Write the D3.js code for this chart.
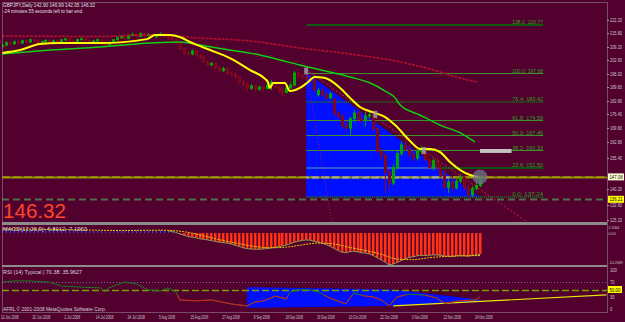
<!DOCTYPE html>
<html>
<head>
<meta charset="utf-8">
<script src="https://cdn.jsdelivr.net/npm/d3@7"></script>
<style>
html, body { margin: 0; padding: 0; background: #52002e; }
svg { display: block; font-family: "Liberation Sans", Arial, sans-serif; }
</style>
</head>
<body>
<svg id="chart" width="625" height="322"></svg>
<script>
// ---- daily GBPJPY bars, 10 Jun 2008 .. 25 Nov 2008 (index = bar number)
const opens = [210.4,211.0,212.2,211.6,212.6,212.0,213.1,212.5,213.6,213.0,212.1,212.6,213.2,212.5,213.1,212.4,213.5,214.0,213.0,212.6,
  213.6,214.1,213.2,212.2,213.0,213.6,212.6,211.2,212.3,213.6,214.6,215.1,214.2,215.6,216.2,215.2,216.6,215.6,216.1,215.0,
  215.6,216.4,215.1,214.5,213.8,211.8,209.2,207.1,206.6,208.2,206.0,205.1,203.0,201.4,202.1,200.0,198.6,199.6,197.1,196.6,
  195.4,193.1,192.0,190.1,191.2,189.6,190.6,190.0,191.4,193.0,190.4,189.0,188.1,190.2,191.6,197.4,196.1,195.5,194.6,194.0,
  187.0,189.0,186.8,185.4,184.6,178.0,176.4,172.0,170.8,175.4,178.0,175.0,174.4,176.6,177.2,170.5,159.5,157.4,149.5,144.2,
  151.6,158.4,162.6,160.4,158.0,156.2,159.6,160.8,155.3,151.6,155.0,151.4,148.4,142.0,144.6,141.7,145.0,146.8,141.7,138.3,
  141.5,142.90];
const highs = [211.6,212.8,212.6,213.2,213.0,213.6,213.6,214.2,214.0,213.4,213.2,213.8,213.6,213.6,213.4,214.0,214.6,214.4,213.6,214.2,
  214.8,214.4,213.6,213.6,214.2,214.0,213.0,212.8,214.0,215.2,215.8,215.6,216.2,217.0,216.6,217.2,217.0,216.8,216.4,216.2,
  217.2,216.8,215.6,215.0,214.2,212.2,209.6,208.0,208.8,208.6,206.6,205.6,203.6,202.8,202.4,200.6,200.4,200.0,198.0,198.0,
  196.2,194.2,192.8,192.0,191.8,191.4,191.2,192.4,194.2,193.6,191.0,190.8,191.4,193.0,198.4,197.8,197.2,197.68,196.2,195.6,
  190.2,190.4,188.2,188.2,185.6,179.4,178.0,174.4,176.2,179.6,179.2,178.4,178.6,179.0,178.0,171.2,161.2,158.4,150.6,153.2,
  160.0,164.2,166.0,162.4,160.0,161.0,162.2,161.4,156.4,156.2,156.0,153.0,150.4,146.0,147.0,147.0,148.5,147.4,143.2,142.6,
  147.5,146.99];
const lows = [209.8,210.6,211.0,211.2,211.4,211.6,212.0,212.2,212.4,211.6,211.6,212.2,212.0,212.0,211.8,212.0,213.0,212.6,212.0,212.2,
  213.2,212.8,211.6,211.8,212.6,212.0,210.2,210.8,212.0,213.2,214.2,213.8,213.8,215.2,214.6,214.8,215.0,215.0,214.4,214.4,
  215.2,214.6,213.8,213.0,211.0,208.6,206.4,205.8,206.0,205.4,204.2,202.4,200.6,200.8,199.2,197.8,198.0,196.4,195.8,194.6,
  192.4,190.8,188.6,189.2,188.4,188.8,189.0,189.4,189.2,189.6,187.4,186.2,187.6,189.8,191.0,195.0,194.4,193.4,192.6,188.4,
  186.0,186.0,184.4,184.8,176.4,175.4,170.8,169.6,167.6,173.6,174.0,173.0,171.6,175.4,169.4,158.4,155.0,139.3,141.2,143.0,
  150.6,157.4,159.4,156.4,154.2,155.0,158.2,154.4,150.4,150.2,150.6,147.0,141.0,139.3,140.5,141.0,144.0,140.5,137.24,137.6,
  140.6,142.05];
const closes = [211.0,212.2,211.6,212.6,212.0,213.1,212.5,213.6,213.0,212.1,212.6,213.2,212.5,213.1,212.4,213.5,214.0,213.0,212.6,213.6,
  214.1,213.2,212.2,213.0,213.6,212.6,211.2,212.3,213.6,214.6,215.1,214.2,215.6,216.2,215.2,216.6,215.6,216.1,215.0,215.6,
  216.4,215.1,214.5,213.8,211.8,209.2,207.1,206.6,208.2,206.0,205.1,203.0,201.4,202.1,200.0,198.6,199.6,197.1,196.6,195.4,
  193.1,192.0,190.1,191.2,189.6,190.6,190.0,191.4,193.0,190.4,189.0,188.1,190.2,191.6,197.4,196.1,195.5,194.6,194.0,189.2,
  189.0,186.8,185.4,187.3,178.0,176.4,172.0,170.8,175.4,178.0,175.0,174.4,176.6,177.2,170.5,159.5,157.4,149.5,144.2,151.6,
  158.4,162.6,160.4,158.0,156.2,159.6,160.8,155.3,151.6,155.0,151.4,148.0,142.0,144.6,141.7,145.0,146.8,141.7,138.3,141.5,
  142.9,146.32];

// moving averages: [bar, price]
const yellowMA = [[0,207.2],[4.6,208.6],[9.6,211.5],[14.7,212.0],[24.8,212.0],[36.7,213.9],[38.7,215.9],[42.5,215.9],[45,214.9],
  [47.6,212.5],[50,210.6],[52.7,208.6],[57.7,204.7],[62.8,198.9],[66.6,194.6],[67.3,193.1],[67.8,190.2],[68.6,192.6],[71.6,192.6],
  [72.9,188.7],[75.4,190.2],[77.2,192.6],[79.2,195.5],[81.8,195.0],[85.6,190.2],[88.1,185.4],[90.6,181.0],[94.4,178.1],[97,176.1],
  [99.5,172.2],[103.3,164.5],[105.8,160.6],[108.4,160.6],[110.9,159.1],[113.4,154.3],[116,150.4],[118.5,148.0],[120.5,147.0]];
const greenMA = [[0,206.7],[12.2,208.6],[24.8,210.1],[37.5,212.0],[45,212.5],[50.1,211.0],[57.7,208.6],[65.3,206.2],[70.4,203.8],
  [75.4,201.3],[83,197.9],[88.1,195.5],[93.2,192.6],[97,188.7],[99.5,185.4],[100.8,181.9],[105.8,177.1],[110.9,172.2],[116,168.4],[119.7,164.0]];
const redMA = [[0,215.4],[25,215.2],[37.5,215.9],[50,214.4],[62.8,213.0],[75.4,209.6],[88.1,206.7],[100.8,202.8],[108.4,199.4],
  [116,195.0],[120.3,193.1]];

// chart objects
const fibLevels = [0, 23.6, 38.2, 50, 61.8, 76.4, 100, 138.2];
const fibLow = 137.24, fibHigh = 197.68;
const fibStart = 77, fibEnd = 137;
const zoneTriangle = [[77, 197.68], [77, 137.24], [121, 137.24]];
const trendLine = [[77, 198.9], [133, 125.2]];
const steepLine = [[77, 198.9], [83.5, 125.2]];
const bidPrice = 147.08, lowLine = 136.21, lastPrice = 146.32;
const grayBar = [[121, 160.6], [129, 158.7]];
const markers = [[77, 198.2], [94.5, 177.2], [106.8, 159.6]];

// MACD histogram per bar and signal line [bar, value]
const macdHist = [1.2,1.3,1.3,1.2,1.2,1.3,1.2,1.2,1.1,1.0,1.0,1.0,0.9,0.9,0.9,0.9,1.0,0.9,0.8,0.8,
  0.9,0.8,0.7,0.7,0.7,0.6,0.4,0.4,0.5,0.6,0.8,0.8,0.9,1.0,1.0,1.1,1.0,1.0,0.9,0.9,
  1.0,0.8,0.7,0.5,0.2,-0.3,-0.7,-1.1,-1.3,-1.5,-1.8,-2.0,-2.2,-2.4,-2.7,-2.9,-3.1,-3.2,-3.5,-3.9,
  -4.3,-4.7,-5.0,-5.1,-5.2,-5.2,-5.1,-5.0,-4.8,-4.6,-4.4,-4.1,-3.8,-3.4,-2.9,-2.6,-2.4,-2.2,-2.3,-2.6,
  -2.9,-3.3,-3.7,-4.2,-4.9,-5.5,-6.1,-6.3,-6.0,-5.8,-6.0,-6.3,-6.4,-6.7,-7.2,-7.9,-8.6,-9.3,-10.2,-9.9,
  -9.4,-8.8,-8.3,-7.8,-7.6,-7.3,-7.1,-7.2,-7.1,-7.0,-7.0,-7.1,-7.4,-7.4,-7.5,-7.3,-7.2,-7.3,-7.4,-7.2,
  -7.0,-6.8];
const macdSignal = [[0,1.3],[10,1.2],[20,1.0],[30,0.8],[40,0.9],[44,0.7],[48,0.0],[52,-1.2],[56,-2.4],[60,-3.4],[64,-4.3],
  [68,-4.7],[72,-4.5],[76,-3.8],[80,-3.2],[84,-3.5],[88,-4.6],[92,-5.6],[96,-6.8],[100,-8.3],[104,-8.5],[108,-7.9],
  [112,-7.5],[116,-7.3],[121,-7.2]];

// RSI(14) [bar, value]
const rsi = [[0,69],[3,72],[7,72],[12,69],[15,59],[20,56],[25,54],[26,44],[27,54],[31,69],[34,64],[37,49],[40,46],[42,54],
  [44,44],[45,23],[49,21],[53,23],[58,13],[62,8],[64,18],[66,20],[68,28],[69,33],[72,26],[73,44],[75,49],[78,49],[80,44],
  [83,28],[87,13],[89,41],[92,33],[94,31],[96,23],[98,8],[100,31],[103,38],[107,36],[110,28],[112,15],[116,21],[120,23],[121,31]];
const rsiZone = [[62,56],[99,50],[121,24],[121,18],[99,8],[62,3]];
const rsiTrend = [[99,8],[153,36]];

// axis labels
const priceTicks = [222.20,215.80,209.20,202.60,196.00,189.60,182.80,176.40,169.80,162.80,155.40,140.20,132.60,125.20];
const dateLabels = ["10 Jun 2008","20 Jun 2008","1 Jul 2008","14 Jul 2008","24 Jul 2008","5 Aug 2008","15 Aug 2008",
  "27 Aug 2008","8 Sep 2008","18 Sep 2008","30 Sep 2008","10 Oct 2008","22 Oct 2008","3 Nov 2008","12 Nov 2008","24 Nov 2008"];
const dateStep = 8;

// ---- layout
const BG = "#52002e";
const plotL = 2, plotR = 607;
const svg = d3.select("#chart");

const x = d3.scaleLinear().domain([0, 121]).range([2, 480]);
const y = d3.scaleLinear().domain([125.2, 222.2]).range([222, 22]);
const yM = d3.scaleLinear().domain([-10.2089, 2.5564]).range([265, 225]);
const yR = d3.scaleLinear().domain([0, 100]).range([309, 270]);

svg.append("rect").attr("width", 625).attr("height", 322).attr("fill", BG);

const defs = svg.append("defs");
defs.append("clipPath").attr("id", "clipMain").append("rect")
  .attr("x", plotL).attr("y", 2).attr("width", plotR - plotL).attr("height", 220);
defs.append("clipPath").attr("id", "clipMacd").append("rect")
  .attr("x", plotL).attr("y", 225).attr("width", plotR - plotL).attr("height", 40);
defs.append("clipPath").attr("id", "clipRsi").append("rect")
  .attr("x", plotL).attr("y", 267).attr("width", plotR - plotL).attr("height", 45);
defs.append("clipPath").attr("id", "clipTri").append("polygon")
  .attr("points", zoneTriangle.map(d => [x(d[0]), y(d[1])].join(",")).join(" "));
defs.append("clipPath").attr("id", "clipRsiLow").append("rect")
  .attr("x", plotL).attr("y", yR(36)).attr("width", plotR - plotL).attr("height", 320 - yR(36));

const lineP = d3.line().x(d => x(d[0])).y(d => y(d[1]));

// ================= main window
const gMain = svg.append("g").attr("clip-path", "url(#clipMain)");

gMain.append("polygon")
  .attr("points", zoneTriangle.map(d => [x(d[0]), y(d[1])].join(",")).join(" "))
  .attr("fill", "#0010ff");

// fibonacci levels
const fibPrice = l => fibLow + (fibHigh - fibLow) * l / 100;
const fibStyle = {
  0: {c: "#1d6a1d", w: 2, dash: "1,1"},
  23.6: {c: "#145214", w: 2, dash: null},
  38.2: {c: "#3f8f2a", w: 1, dash: null},
  50: {c: "#3f8f2a", w: 1, dash: null},
  61.8: {c: "#3f8f2a", w: 1, dash: null},
  76.4: {c: "#1d6a1d", w: 2, dash: "1,1"},
  100: {c: "#3f8f2a", w: 1, dash: null},
  138.2: {c: "#0d5a10", w: 2, dash: null}
};
fibLevels.forEach(l => {
  const st = fibStyle[l];
  const yy = Math.round(y(fibPrice(l))) + (st.w === 1 ? 0.5 : 0);
  gMain.append("line").attr("x1", x(fibStart)).attr("x2", x(fibEnd))
    .attr("y1", yy).attr("y2", yy)
    .attr("stroke", st.c).attr("stroke-width", st.w)
    .attr("stroke-dasharray", st.dash);
  if (l === 23.6) {
    gMain.append("line").attr("clip-path", "url(#clipTri)")
      .attr("x1", x(fibStart)).attr("x2", x(fibEnd)).attr("y1", yy).attr("y2", yy)
      .attr("stroke", "#2a5ad8").attr("stroke-width", 2);
  }
  gMain.append("text").attr("x", x(fibEnd)).attr("y", yy - 1)
    .attr("text-anchor", "end").attr("font-size", 5.5).attr("fill", "#2f9e26")
    .attr("textLength", 31).attr("lengthAdjust", "spacingAndGlyphs")
    .text(d3.format(".1f")(l) + ": " + d3.format(".2f")(fibPrice(l)));
});

// horizontal price lines
const yBid = Math.round(y(bidPrice)) + 0.5;
gMain.append("line").attr("x1", plotL).attr("x2", plotR).attr("y1", yBid).attr("y2", yBid)
  .attr("stroke", "#8c8c00").attr("stroke-width", 2);
gMain.append("line").attr("x1", plotL).attr("x2", plotR).attr("y1", yBid - 0.5).attr("y2", yBid - 0.5)
  .attr("stroke", "#b4b400").attr("stroke-width", 1).attr("stroke-dasharray", "8,3");
gMain.append("line").attr("clip-path", "url(#clipTri)")
  .attr("x1", plotL).attr("x2", plotR).attr("y1", yBid).attr("y2", yBid)
  .attr("stroke", "#a8a8a8").attr("stroke-width", 2).attr("stroke-dasharray", "7,3");
const yLow = Math.round(y(lowLine)) + 0.5;
gMain.append("line").attr("x1", plotL).attr("x2", plotR).attr("y1", yLow).attr("y2", yLow)
  .attr("stroke", "#4f6f4a").attr("stroke-width", 2).attr("stroke-dasharray", "7,4");

// trend lines
gMain.append("path").attr("d", lineP(trendLine)).attr("fill", "none")
  .attr("stroke", "#d21e3c").attr("stroke-width", 1).attr("stroke-dasharray", "2,2");
gMain.append("path").attr("d", lineP(steepLine)).attr("fill", "none")
  .attr("stroke", "#a82050").attr("stroke-width", 1).attr("stroke-dasharray", "1,2");

// candles
const bars = closes.map((c, i) => ({i, o: opens[i], h: highs[i], l: lows[i], c}));
const gBars = gMain.append("g");
gBars.selectAll("line.wick").data(bars).enter().append("line")
  .attr("class", "wick")
  .attr("x1", d => Math.round(x(d.i)) + 0.5).attr("x2", d => Math.round(x(d.i)) + 0.5)
  .attr("y1", d => y(d.h)).attr("y2", d => y(d.l))
  .attr("stroke", d => d.c >= d.o ? "#00a000" : "#8a0a2a");
gBars.selectAll("rect.body").data(bars).enter().append("rect")
  .attr("class", "body")
  .attr("x", d => Math.round(x(d.i)) - 0.5)
  .attr("y", d => y(Math.max(d.o, d.c)))
  .attr("width", 2)
  .attr("height", d => Math.max(1, Math.abs(y(d.o) - y(d.c))))
  .attr("fill", d => d.c >= d.o ? "none" : "#780014")
  .attr("stroke", d => d.c >= d.o ? "#00a800" : "#840a1e")
  .attr("stroke-width", 1);

// moving averages
gMain.append("path").attr("d", lineP.curve(d3.curveMonotoneX)(redMA)).attr("fill", "none")
  .attr("stroke", "#b4102e").attr("stroke-width", 1.5).attr("stroke-dasharray", "3,1");
gMain.append("path").attr("d", lineP.curve(d3.curveMonotoneX)(greenMA)).attr("fill", "none")
  .attr("stroke", "#10d010").attr("stroke-width", 1.5);
gMain.append("path").attr("d", lineP.curve(d3.curveMonotoneX)(yellowMA)).attr("fill", "none")
  .attr("stroke", "#ffff00").attr("stroke-width", 2);

// misc objects
gMain.append("rect")
  .attr("x", x(grayBar[0][0])).attr("y", y(grayBar[0][1]))
  .attr("width", x(grayBar[1][0]) - x(grayBar[0][0]))
  .attr("height", y(grayBar[1][1]) - y(grayBar[0][1]))
  .attr("fill", "#c4c4c4");
gMain.selectAll("rect.mk").data(markers).enter().append("rect").attr("class", "mk")
  .attr("x", d => x(d[0]) - 2).attr("y", d => y(d[1]) - 4).attr("width", 4).attr("height", 7)
  .attr("fill", "#a6a0a8").attr("opacity", 0.8);
gMain.append("circle").attr("cx", x(121)).attr("cy", y(bidPrice)).attr("r", 7)
  .attr("fill", "#6a7a88").attr("opacity", 0.75)
  .attr("stroke", "#9aa8b4").attr("stroke-dasharray", "1,1");

// texts in main window
svg.append("text").attr("x", 3).attr("y", 7).attr("font-size", 5.5).attr("fill", "#e0e0e0")
  .attr("textLength", 92).attr("lengthAdjust", "spacingAndGlyphs")
  .text("GBPJPY,Daily  142.90 146.99 142.05 146.32");
svg.append("text").attr("x", 3).attr("y", 12.5).attr("font-size", 5.5).attr("fill", "#e0e0e0")
  .attr("textLength", 79).attr("lengthAdjust", "spacingAndGlyphs")
  .text("-24 minutes 55 seconds left to bar end");
svg.append("text").attr("x", 3).attr("y", 217.5).attr("font-size", 21).attr("fill", "#ff4628")
  .attr("textLength", 63).attr("lengthAdjust", "spacingAndGlyphs")
  .text(d3.format(".2f")(lastPrice));

// ================= MACD window
const gMacd = svg.append("g").attr("clip-path", "url(#clipMacd)");
const z = yM(0);
gMacd.selectAll("rect.h").data(macdHist.map((v, i) => ({i, v}))).enter().append("rect")
  .attr("class", "h")
  .attr("x", d => Math.round(x(d.i)) - (d.v < 0 ? 1 : 0))
  .attr("width", d => d.v < 0 ? 2.5 : 1)
  .attr("y", d => Math.min(yM(d.v), z))
  .attr("height", d => Math.abs(yM(d.v) - z))
  .attr("fill", d => d.v < 0 ? "#ff3214" : "#2848ff");
const lineM = d3.line().x(d => x(d[0])).y(d => yM(d[1]));
gMacd.append("path").attr("d", lineM(macdHist.map((v, i) => [i, v]).filter(d => d[0] >= 42)))
  .attr("fill", "none").attr("stroke", "#8a9a5a").attr("stroke-width", 1);
gMacd.append("path").attr("d", lineM.curve(d3.curveMonotoneX)(macdSignal))
  .attr("fill", "none").attr("stroke", "#e8c800").attr("stroke-width", 1).attr("stroke-dasharray", "2,1");
svg.append("text").attr("x", 3).attr("y", 231).attr("font-size", 5.5).attr("fill", "#d8d8d8")
  .attr("textLength", 84).attr("lengthAdjust", "spacingAndGlyphs")
  .text("MACD(12,26,9) -6.8012 -7.1963");

// ================= RSI window
const gRsi = svg.append("g").attr("clip-path", "url(#clipRsi)");
const lineR = d3.line().x(d => x(d[0])).y(d => yR(d[1]));
gRsi.append("polygon")
  .attr("points", rsiZone.map(d => [x(d[0]), yR(d[1])].join(",")).join(" "))
  .attr("fill", "#0010ff");
gRsi.append("line").attr("x1", plotL).attr("x2", plotR)
  .attr("y1", Math.round(yR(70)) + 0.5).attr("y2", Math.round(yR(70)) + 0.5)
  .attr("stroke", "#6a6aa8").attr("stroke-dasharray", "1,2");
gRsi.append("line").attr("x1", plotL).attr("x2", plotR)
  .attr("y1", Math.round(yR(50)) + 0.5).attr("y2", Math.round(yR(50)) + 0.5)
  .attr("stroke", "#78a000").attr("stroke-width", 1.5).attr("stroke-dasharray", "7,3");
gRsi.append("path").attr("d", lineR(rsiTrend)).attr("fill", "none")
  .attr("stroke", "#e6e600").attr("stroke-width", 1.2);
gRsi.append("path").attr("d", lineR(rsi)).attr("fill", "none")
  .attr("stroke", "#1f7a1f").attr("stroke-width", 1);
gRsi.append("path").attr("d", lineR(rsi)).attr("fill", "none").attr("clip-path", "url(#clipRsiLow)")
  .attr("stroke", "#d82020").attr("stroke-width", 1);
svg.append("text").attr("x", 3).attr("y", 273.5).attr("font-size", 5.5).attr("fill", "#d8d8d8")
  .attr("textLength", 79).attr("lengthAdjust", "spacingAndGlyphs")
  .text("RSI (14) Typical | 70.38: 35.9627");
svg.append("text").attr("x", 3).attr("y", 310.5).attr("font-size", 5.5).attr("fill", "#d8d8d8")
  .attr("textLength", 103).attr("lengthAdjust", "spacingAndGlyphs")
  .text("AFRL © 2001-2008 MetaQuotes Software Corp.");

// ================= frames and separators
svg.append("rect").attr("x", plotL + 0.5).attr("y", 2.5).attr("width", plotR - plotL).attr("height", 310)
  .attr("fill", "none").attr("stroke", "#9a9a9a").attr("stroke-dasharray", "1,1");
[[222, 225], [265, 267]].forEach(s => {
  svg.append("rect").attr("x", plotL).attr("y", s[0]).attr("width", plotR - plotL).attr("height", s[1] - s[0])
    .attr("fill", "#8c8c8c");
});

// ================= right axis
const axisG = svg.append("g");
priceTicks.forEach(v => {
  const yy = y(v) - 2;
  axisG.append("line").attr("x1", plotR).attr("x2", plotR + 2).attr("y1", Math.round(yy) + 0.5).attr("y2", Math.round(yy) + 0.5)
    .attr("stroke", "#9a9a9a");
  axisG.append("text").attr("x", 610).attr("y", yy + 2).attr("font-size", 5).attr("fill", "#c8c8c8")
    .attr("textLength", 12).attr("lengthAdjust", "spacingAndGlyphs")
    .text(d3.format(".2f")(v));
});
function priceBox(yy, label, fill, w) {
  axisG.append("rect").attr("x", 608).attr("y", yy - 3.5).attr("width", w).attr("height", 7).attr("fill", fill);
  axisG.append("text").attr("x", 609.5).attr("y", yy + 2).attr("font-size", 5).attr("fill", "#000")
    .attr("textLength", w - 3).attr("lengthAdjust", "spacingAndGlyphs").text(label);
}
priceBox(y(bidPrice), d3.format(".2f")(bidPrice), "#ffffd8", 16);
priceBox(y(lowLine), d3.format(".2f")(lowLine), "#ffff00", 16);
[[2.5564, "2.5564", 227], [0, "0.00", 232.5], [-10.2089, "-10.2089", 262]].forEach(d => {
  axisG.append("text").attr("x", 608.5).attr("y", d[2] + 2).attr("font-size", 4).attr("fill", "#c8c8c8")
    .attr("textLength", d[1].length * 1.8).attr("lengthAdjust", "spacingAndGlyphs").text(d[1]);
});
[100, 70, 30, 0].forEach(v => {
  axisG.append("text").attr("x", 610).attr("y", yR(v) + 2).attr("font-size", 5).attr("fill", "#c8c8c8")
    .attr("textLength", String(v).length * 2.3).attr("lengthAdjust", "spacingAndGlyphs").text(v);
});
priceBox(yR(50), "50.00", "#ffff00", 14);

// ================= date axis
dateLabels.forEach((t, k) => {
  svg.append("text").attr("x", x(k * dateStep) - 1).attr("y", 318.5).attr("font-size", 5).attr("fill", "#c8c8c8")
    .attr("textLength", t.length * 1.6).attr("lengthAdjust", "spacingAndGlyphs").text(t);
});
</script>
</body>
</html>
